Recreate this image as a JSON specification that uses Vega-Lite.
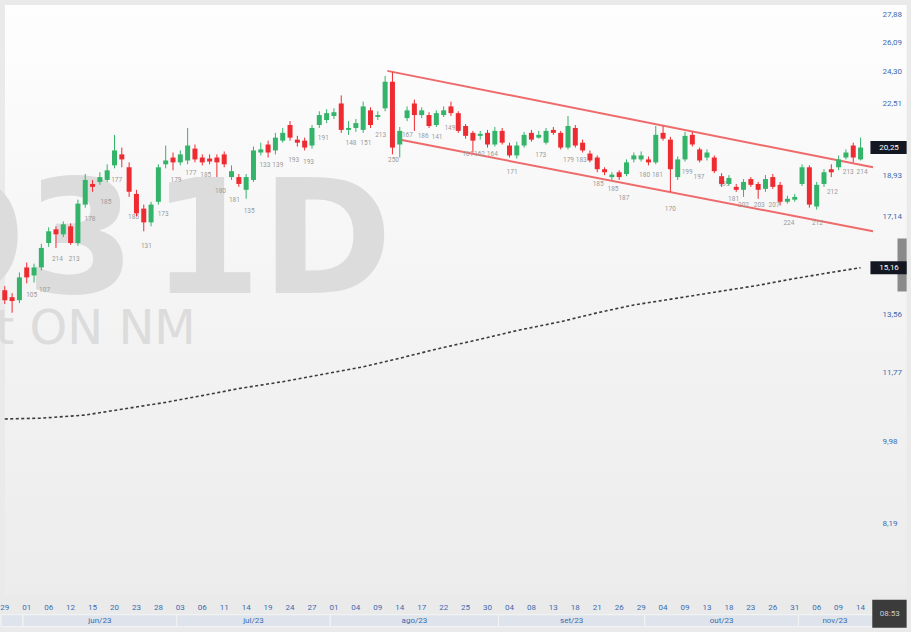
{
"$schema":"https://vega.github.io/schema/vega-lite/v6.json",
"width":878,"height":600,
"autosize":{"type":"none"},
"padding":{"left":0,"top":0,"right":33,"bottom":32},
"background":"#eaeaea",
"config":{"view":{"stroke":null},"text":{"font":"Roboto"}},
"datasets":{
"candles":[
{"i":-3,"o":14.36,"h":14.50,"l":13.89,"c":14.02},
{"i":-2,"o":14.12,"h":14.26,"l":13.60,"c":13.99},
{"i":-1,"o":14.02,"h":14.99,"l":13.92,"c":14.81},
{"i":0,"o":15.17,"h":15.35,"l":14.60,"c":14.81},
{"i":1,"o":14.88,"h":15.31,"l":14.63,"c":15.17},
{"i":2,"o":15.17,"h":16.06,"l":15.06,"c":15.90},
{"i":3,"o":16.09,"h":16.71,"l":15.94,"c":16.55},
{"i":4,"o":16.63,"h":16.75,"l":15.90,"c":16.43},
{"i":5,"o":16.43,"h":16.95,"l":16.32,"c":16.83},
{"i":6,"o":16.75,"h":16.87,"l":16.02,"c":16.09},
{"i":7,"o":16.09,"h":17.86,"l":15.98,"c":17.69},
{"i":8,"o":17.65,"h":19.00,"l":17.52,"c":18.73},
{"i":9,"o":18.55,"h":18.73,"l":18.20,"c":18.42},
{"i":10,"o":18.64,"h":19.08,"l":18.51,"c":18.86},
{"i":11,"o":18.73,"h":19.45,"l":18.64,"c":19.17},
{"i":12,"o":19.40,"h":20.88,"l":19.26,"c":20.11},
{"i":13,"o":19.92,"h":20.25,"l":19.31,"c":19.68},
{"i":14,"o":19.31,"h":19.54,"l":17.98,"c":18.20},
{"i":15,"o":18.11,"h":18.29,"l":17.15,"c":17.28},
{"i":16,"o":17.48,"h":17.65,"l":16.55,"c":16.91},
{"i":17,"o":16.91,"h":17.77,"l":16.75,"c":17.65},
{"i":18,"o":17.77,"h":19.45,"l":17.65,"c":19.31},
{"i":19,"o":19.45,"h":20.35,"l":19.26,"c":19.63},
{"i":20,"o":19.77,"h":20.01,"l":19.17,"c":19.54},
{"i":21,"o":19.54,"h":20.11,"l":19.40,"c":19.92},
{"i":22,"o":19.63,"h":21.23,"l":19.45,"c":20.35},
{"i":23,"o":20.20,"h":20.40,"l":19.54,"c":19.68},
{"i":24,"o":19.77,"h":19.92,"l":19.40,"c":19.54},
{"i":25,"o":19.72,"h":19.92,"l":19.45,"c":19.58},
{"i":26,"o":19.77,"h":19.92,"l":18.86,"c":19.54},
{"i":27,"o":19.92,"h":20.06,"l":19.31,"c":19.45},
{"i":28,"o":18.86,"h":19.40,"l":18.73,"c":19.13},
{"i":29,"o":18.86,"h":19.00,"l":18.42,"c":18.55},
{"i":30,"o":18.29,"h":19.00,"l":17.90,"c":18.86},
{"i":31,"o":18.73,"h":20.30,"l":18.64,"c":20.11},
{"i":32,"o":20.01,"h":20.49,"l":19.87,"c":20.16},
{"i":33,"o":20.40,"h":20.59,"l":19.77,"c":20.01},
{"i":34,"o":20.11,"h":20.98,"l":19.92,"c":20.74},
{"i":35,"o":20.59,"h":21.23,"l":20.49,"c":20.98},
{"i":36,"o":21.38,"h":21.58,"l":20.59,"c":20.74},
{"i":37,"o":20.64,"h":20.83,"l":20.30,"c":20.49},
{"i":38,"o":20.59,"h":20.74,"l":20.11,"c":20.25},
{"i":39,"o":20.35,"h":21.38,"l":20.20,"c":21.23},
{"i":40,"o":21.38,"h":22.10,"l":21.23,"c":21.90},
{"i":41,"o":21.64,"h":22.21,"l":21.48,"c":22.00},
{"i":42,"o":21.85,"h":22.26,"l":21.69,"c":22.05},
{"i":43,"o":22.52,"h":22.96,"l":20.98,"c":21.13},
{"i":44,"o":21.13,"h":21.58,"l":20.88,"c":21.23},
{"i":45,"o":21.23,"h":21.69,"l":21.03,"c":21.48},
{"i":46,"o":21.13,"h":22.62,"l":20.98,"c":22.36},
{"i":47,"o":22.15,"h":22.31,"l":21.23,"c":21.38},
{"i":48,"o":21.80,"h":22.10,"l":21.64,"c":21.90},
{"i":49,"o":22.26,"h":24.06,"l":22.10,"c":23.73},
{"i":50,"o":23.73,"h":24.28,"l":19.92,"c":20.25},
{"i":51,"o":20.40,"h":21.28,"l":19.77,"c":21.08},
{"i":52,"o":21.74,"h":22.36,"l":21.58,"c":22.15},
{"i":53,"o":22.52,"h":22.73,"l":21.08,"c":21.90},
{"i":54,"o":21.90,"h":22.31,"l":21.74,"c":22.15},
{"i":55,"o":21.90,"h":22.05,"l":21.23,"c":21.33},
{"i":56,"o":21.38,"h":22.15,"l":21.28,"c":22.00},
{"i":57,"o":21.90,"h":22.36,"l":21.80,"c":22.15},
{"i":58,"o":22.36,"h":22.62,"l":21.85,"c":22.00},
{"i":59,"o":22.00,"h":22.10,"l":20.98,"c":21.08},
{"i":60,"o":21.33,"h":21.43,"l":20.69,"c":20.83},
{"i":61,"o":20.98,"h":21.08,"l":20.01,"c":20.59},
{"i":62,"o":20.83,"h":21.08,"l":20.64,"c":20.93},
{"i":63,"o":20.98,"h":21.13,"l":20.25,"c":20.40},
{"i":64,"o":20.40,"h":21.28,"l":20.30,"c":21.08},
{"i":65,"o":21.08,"h":21.23,"l":20.40,"c":20.49},
{"i":66,"o":20.35,"h":20.49,"l":19.77,"c":19.87},
{"i":67,"o":19.87,"h":20.54,"l":19.72,"c":20.35},
{"i":68,"o":20.35,"h":21.03,"l":20.25,"c":20.88},
{"i":69,"o":20.98,"h":21.13,"l":20.54,"c":20.64},
{"i":70,"o":20.74,"h":21.08,"l":20.69,"c":20.88},
{"i":71,"o":20.49,"h":21.23,"l":20.40,"c":21.08},
{"i":72,"o":21.13,"h":21.28,"l":20.88,"c":20.98},
{"i":73,"o":20.98,"h":21.08,"l":20.16,"c":20.25},
{"i":74,"o":20.25,"h":21.85,"l":20.16,"c":21.33},
{"i":75,"o":21.23,"h":21.38,"l":20.25,"c":20.35},
{"i":76,"o":20.49,"h":20.64,"l":20.01,"c":20.11},
{"i":77,"o":19.96,"h":20.11,"l":19.54,"c":19.63},
{"i":78,"o":19.77,"h":19.87,"l":19.08,"c":19.22},
{"i":79,"o":19.22,"h":19.31,"l":18.95,"c":19.08},
{"i":80,"o":18.86,"h":19.08,"l":18.73,"c":18.97},
{"i":81,"o":19.08,"h":19.17,"l":18.73,"c":18.86},
{"i":82,"o":19.00,"h":19.68,"l":18.90,"c":19.54},
{"i":83,"o":19.68,"h":20.01,"l":19.54,"c":19.87},
{"i":84,"o":19.68,"h":20.06,"l":19.58,"c":19.87},
{"i":85,"o":19.68,"h":19.82,"l":19.40,"c":19.54},
{"i":86,"o":19.54,"h":21.33,"l":19.45,"c":20.88},
{"i":87,"o":20.98,"h":21.33,"l":20.59,"c":20.69},
{"i":88,"o":20.64,"h":20.78,"l":18.20,"c":19.22},
{"i":89,"o":18.86,"h":19.82,"l":18.73,"c":19.68},
{"i":90,"o":19.68,"h":21.03,"l":19.58,"c":20.83},
{"i":91,"o":20.88,"h":21.03,"l":20.30,"c":20.40},
{"i":92,"o":20.16,"h":20.25,"l":19.54,"c":19.63},
{"i":93,"o":19.77,"h":20.16,"l":19.63,"c":20.01},
{"i":94,"o":19.77,"h":19.87,"l":19.04,"c":19.13},
{"i":95,"o":18.90,"h":19.04,"l":18.42,"c":18.55},
{"i":96,"o":18.55,"h":18.95,"l":18.46,"c":18.82},
{"i":97,"o":18.42,"h":18.55,"l":18.20,"c":18.29},
{"i":98,"o":18.29,"h":18.77,"l":17.98,"c":18.64},
{"i":99,"o":18.77,"h":18.86,"l":18.42,"c":18.51},
{"i":100,"o":18.55,"h":18.64,"l":17.90,"c":18.29},
{"i":101,"o":18.33,"h":18.95,"l":18.20,"c":18.77},
{"i":102,"o":18.86,"h":19.00,"l":18.33,"c":18.42},
{"i":103,"o":18.51,"h":18.64,"l":17.61,"c":17.77},
{"i":104,"o":17.77,"h":18.03,"l":17.69,"c":17.90},
{"i":105,"o":17.86,"h":18.11,"l":17.77,"c":17.98},
{"i":106,"o":18.55,"h":19.45,"l":18.46,"c":19.31},
{"i":107,"o":19.31,"h":19.40,"l":17.52,"c":17.65},
{"i":108,"o":17.57,"h":18.64,"l":17.44,"c":18.51},
{"i":109,"o":18.55,"h":19.22,"l":18.42,"c":19.08},
{"i":110,"o":19.22,"h":19.45,"l":18.86,"c":19.08},
{"i":111,"o":19.31,"h":19.87,"l":19.17,"c":19.68},
{"i":112,"o":19.77,"h":20.16,"l":19.68,"c":20.01},
{"i":113,"o":20.35,"h":20.49,"l":19.54,"c":19.77},
{"i":114,"o":19.68,"h":20.74,"l":19.63,"c":20.25}
],
"ma":[
{"i":-3,"v":10.53},{"i":2,"v":10.55},{"i":8,"v":10.63},{"i":13,"v":10.78},{"i":19,"v":10.96},{"i":24,"v":11.14},{"i":29,"v":11.33},{"i":35,"v":11.52},{"i":40,"v":11.71},{"i":46,"v":11.94},{"i":51,"v":12.19},{"i":56,"v":12.46},{"i":62,"v":12.76},{"i":67,"v":13.03},{"i":73,"v":13.31},{"i":78,"v":13.60},{"i":83,"v":13.86},{"i":89,"v":14.09},{"i":94,"v":14.29},{"i":100,"v":14.53},{"i":105,"v":14.77},{"i":110,"v":14.99},{"i":114,"v":15.16}
],
"chan":[
{"k":"up","i":49.3,"v":24.36},{"k":"up","i":115.7,"v":19.31},
{"k":"lo","i":51.1,"v":20.63},{"k":"lo","i":115.7,"v":16.55}
],
"notes":[
{"i":0.68,"v":14.19,"t":"105"},{"i":2.44,"v":14.36,"t":"107"},{"i":4.19,"v":15.49,"t":"214"},{"i":6.49,"v":15.49,"t":"213"},
{"i":8.65,"v":17.03,"t":"178"},{"i":10.82,"v":17.77,"t":"185"},{"i":12.3,"v":18.73,"t":"177"},{"i":14.6,"v":17.11,"t":"185"},
{"i":16.36,"v":15.98,"t":"131"},{"i":18.65,"v":17.24,"t":"173"},{"i":20.41,"v":18.73,"t":"179"},{"i":22.44,"v":19.04,"t":"177"},
{"i":24.47,"v":18.95,"t":"185"},{"i":26.49,"v":18.25,"t":"180"},{"i":28.39,"v":17.86,"t":"181"},{"i":30.41,"v":17.36,"t":"135"},
{"i":32.57,"v":19.40,"t":"133"},{"i":34.33,"v":19.40,"t":"139"},{"i":36.5,"v":19.63,"t":"193"},{"i":38.52,"v":19.54,"t":"193"},
{"i":40.55,"v":20.74,"t":"191"},{"i":44.33,"v":20.49,"t":"148"},{"i":46.36,"v":20.49,"t":"151"},{"i":48.39,"v":20.88,"t":"213"},
{"i":50.15,"v":19.63,"t":"250"},{"i":52.04,"v":20.88,"t":"167"},{"i":54.2,"v":20.83,"t":"186"},{"i":56.09,"v":20.78,"t":"141"},
{"i":57.85,"v":21.23,"t":"149"},{"i":60.28,"v":19.92,"t":"161"},{"i":61.9,"v":19.92,"t":"162"},{"i":63.66,"v":19.92,"t":"164"},
{"i":66.36,"v":19.08,"t":"171"},{"i":70.28,"v":19.87,"t":"173"},{"i":74.07,"v":19.63,"t":"179"},{"i":75.82,"v":19.63,"t":"183"},
{"i":78.12,"v":18.55,"t":"185"},{"i":80.15,"v":18.33,"t":"185"},{"i":81.64,"v":17.94,"t":"187"},{"i":84.47,"v":18.95,"t":"180"},
{"i":86.23,"v":18.95,"t":"181"},{"i":87.99,"v":17.48,"t":"170"},{"i":90.29,"v":19.08,"t":"199"},{"i":91.91,"v":18.86,"t":"197"},
{"i":95.29,"v":18.55,"t":"189"},{"i":96.64,"v":17.90,"t":"181"},{"i":97.99,"v":17.65,"t":"202"},{"i":100.15,"v":17.65,"t":"203"},
{"i":102.18,"v":17.65,"t":"207"},{"i":104.2,"v":16.87,"t":"224"},{"i":108.1,"v":16.87,"t":"212"},{"i":110.15,"v":18.20,"t":"212"},
{"i":112.32,"v":19.08,"t":"213"},{"i":114.21,"v":19.08,"t":"214"}
],
"days":[
{"i":-3,"d":"29"},{"i":0,"d":"01"},{"i":3,"d":"06"},{"i":6,"d":"12"},{"i":9,"d":"15"},{"i":12,"d":"20"},{"i":15,"d":"23"},{"i":18,"d":"28"},
{"i":21,"d":"03"},{"i":24,"d":"06"},{"i":27,"d":"11"},{"i":30,"d":"14"},{"i":33,"d":"19"},{"i":36,"d":"24"},{"i":39,"d":"27"},
{"i":42,"d":"01"},{"i":45,"d":"04"},{"i":48,"d":"09"},{"i":51,"d":"14"},{"i":54,"d":"17"},{"i":57,"d":"22"},{"i":60,"d":"25"},{"i":63,"d":"30"},
{"i":66,"d":"04"},{"i":69,"d":"08"},{"i":72,"d":"13"},{"i":75,"d":"18"},{"i":78,"d":"21"},{"i":81,"d":"26"},{"i":84,"d":"29"},
{"i":87,"d":"04"},{"i":90,"d":"09"},{"i":93,"d":"13"},{"i":96,"d":"18"},{"i":99,"d":"23"},{"i":102,"d":"26"},{"i":105,"d":"31"},
{"i":108,"d":"06"},{"i":111,"d":"09"},{"i":114,"d":"14"}
],
"months":[
{"m":"","s":-3.5,"e":-0.5,"c":-2},
{"m":"jun/23","s":-0.5,"e":20.5,"c":10},
{"m":"jul/23","s":20.5,"e":41.5,"c":31},
{"m":"ago/23","s":41.5,"e":64.5,"c":53},
{"m":"set/23","s":64.5,"e":84.5,"c":74.5},
{"m":"out/23","s":84.5,"e":105.5,"c":95},
{"m":"nov/23","s":105.5,"e":115.7,"c":110.5}
],
"tags":[{"v":20.25,"t":"20,25"},{"v":15.16,"t":"15,16"}]
},
"layer":[
{"data":{"values":[{}]},
 "mark":{"type":"rect","color":{"gradient":"linear","x1":0,"y1":0,"x2":0,"y2":1,"stops":[{"offset":0,"color":"#fefefe"},{"offset":0.55,"color":"#f3f3f3"},{"offset":1,"color":"#ececec"}]}},
 "encoding":{"x":{"datum":-2.97,"type":"quantitative"},"x2":{"datum":120.3},"y":{"datum":28.55,"type":"quantitative"},"y2":{"datum":6.89}}},
{"data":{"name":"months"},
 "mark":{"type":"bar","orient":"horizontal","size":12,"color":"#dfe4ec","stroke":"#f4f4f4","strokeWidth":1},
 "encoding":{"x":{"field":"s","type":"quantitative"},"x2":{"field":"e"},"y":{"datum":6.476,"type":"quantitative"}}},
{"data":{"name":"months"},
 "mark":{"type":"text","fontSize":8,"color":"#3d6ab0","baseline":"middle"},
 "encoding":{"x":{"field":"c","type":"quantitative"},"y":{"datum":6.476,"type":"quantitative"},"text":{"field":"m"}}},
{"data":{"name":"days"},
 "mark":{"type":"text","fontSize":8,"color":"#3d6ab0","baseline":"middle"},
 "encoding":{"x":{"field":"i","type":"quantitative"},"y":{"datum":6.677,"type":"quantitative"},"text":{"field":"d"}}},
{"data":{"values":[{}]},
 "mark":{"type":"text","font":"DejaVu Sans","fontWeight":"bold","fontSize":158,"color":"#dcdcdc","align":"right","baseline":"alphabetic"},
 "encoding":{"x":{"datum":14.87,"type":"quantitative"},"y":{"datum":14.26,"type":"quantitative"},"text":{"value":"O3"}}},
{"data":{"values":[{}]},
 "mark":{"type":"text","font":"DejaVu Sans","fontWeight":"bold","fontSize":158,"color":"#dcdcdc","align":"right","baseline":"alphabetic"},
 "encoding":{"x":{"datum":50.0,"type":"quantitative"},"y":{"datum":14.26,"type":"quantitative"},"text":{"value":"1D"}}},
{"data":{"values":[{}]},
 "mark":{"type":"text","font":"DejaVu Sans","fontSize":48,"color":"#dcdcdc","align":"right","baseline":"alphabetic"},
 "encoding":{"x":{"datum":23.11,"type":"quantitative"},"y":{"datum":12.60,"type":"quantitative"},"text":{"value":"t ON NM"}}},
{"data":{"name":"ma"},
 "mark":{"type":"line","color":"#3a3a3a","strokeWidth":1.6,"strokeDash":[3,2.5]},
 "encoding":{"x":{"field":"i","type":"quantitative"},"y":{"field":"v","type":"quantitative"}}},
{"data":{"name":"chan"},
 "mark":{"type":"line","color":"#ef6a6a","strokeWidth":2},
 "encoding":{"x":{"field":"i","type":"quantitative"},"y":{"field":"v","type":"quantitative"},"detail":{"field":"k"}}},
{"data":{"name":"notes"},
 "mark":{"type":"text","fontSize":6.5,"color":"#9a9a9a"},
 "encoding":{"x":{"field":"i","type":"quantitative"},"y":{"field":"v","type":"quantitative"},"text":{"field":"t"}}},
{"data":{"name":"candles"},
 "mark":{"type":"rule","strokeWidth":1},
 "encoding":{
  "x":{"field":"i","type":"quantitative","scale":{"domain":[-2.97,115.7],"nice":false,"zero":false},
   "axis":{"title":null,"labels":false,"ticks":false,"domain":false,"grid":false}},
  "y":{"field":"l","type":"quantitative","scale":{"type":"log","domain":[6.89,28.55],"nice":false},
   "axis":{"title":null,"orient":"right","values":[27.88,26.09,24.30,22.51,18.93,17.14,13.56,11.77,9.98,8.19],
    "labelExpr":"replace(format(datum.value,'.2f'),'.',',')",
    "domain":false,"ticks":false,"grid":false,"labelPadding":4,"labelFontSize":8,"labelColor":"#3d6ab0","labelFont":"Roboto","labelFlush":false,"labelOverlap":false,"zindex":1}},
  "y2":{"field":"h"},
  "color":{"condition":{"test":"datum.c >= datum.o","value":"#34b36a"},"value":"#ef2b32"}}},
{"data":{"name":"candles"},
 "mark":{"type":"bar","size":5},
 "encoding":{"x":{"field":"i","type":"quantitative"},"y":{"field":"o","type":"quantitative"},"y2":{"field":"c"},
  "color":{"condition":{"test":"datum.c >= datum.o","value":"#34b36a"},"value":"#ef2b32"}}},
{"data":{"values":[{}]},
 "mark":{"type":"bar","orient":"horizontal","size":53,"color":"#8a8a8a"},
 "encoding":{"x":{"datum":119.05,"type":"quantitative"},"x2":{"datum":120.3},"y":{"datum":15.26,"type":"quantitative"}}},
{"data":{"name":"tags"},
 "mark":{"type":"bar","orient":"horizontal","size":13,"color":"#131722"},
 "encoding":{"x":{"datum":115.35,"type":"quantitative"},"x2":{"datum":120.3},"y":{"field":"v","type":"quantitative"}}},
{"data":{"name":"tags"},
 "mark":{"type":"text","fontSize":8,"color":"#ffffff","baseline":"middle"},
 "encoding":{"x":{"datum":117.9,"type":"quantitative"},"y":{"field":"v","type":"quantitative"},"text":{"field":"t"}}},
{"data":{"values":[{}]},
 "mark":{"type":"bar","orient":"horizontal","size":28,"color":"#3b3b3b"},
 "encoding":{"x":{"datum":115.6,"type":"quantitative"},"x2":{"datum":120.3},"y":{"datum":6.586,"type":"quantitative"}}},
{"data":{"values":[{}]},
 "mark":{"type":"text","fontSize":8,"color":"#cfcfcf","baseline":"middle"},
 "encoding":{"x":{"datum":118.0,"type":"quantitative"},"y":{"datum":6.586,"type":"quantitative"},"text":{"value":"08:53"}}}
]
}
